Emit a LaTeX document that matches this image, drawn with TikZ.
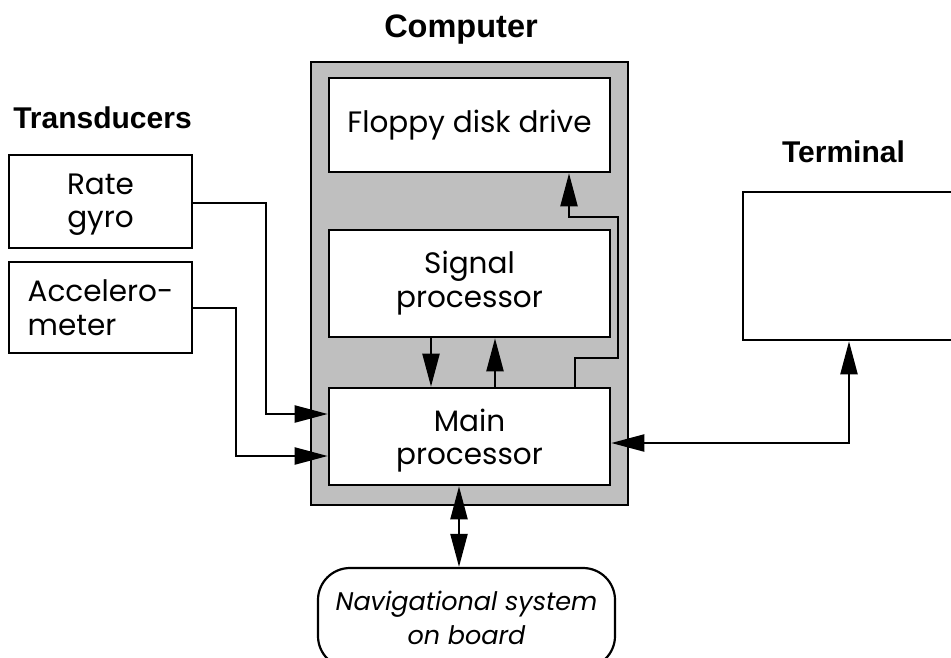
\documentclass[tikz,border=0pt]{standalone}
\usepackage{fontspec}
\setmainfont{Poppins}
\newfontfamily\titlefont{Liberation Sans}
\usetikzlibrary{arrows.meta,calc}
\begin{document}
\begin{tikzpicture}[x=1pt,y=-1pt,
  box/.style={draw,line width=2.6pt,fill=white,inner sep=0pt,font=\fontsize{29.5}{34}\selectfont,align=center},
  lbl/.style={inner sep=0pt,font=\fontsize{29.5}{33}\selectfont,align=center},
  title/.style={font=\titlefont\bfseries\fontsize{30}{34}\selectfont,inner sep=0pt},
  conn/.style={line width=2.2pt},
  arr/.style={conn,-{Triangle[length=33pt,width=17pt]}},
  darr/.style={conn,{Triangle[length=33pt,width=17pt]}-{Triangle[length=33pt,width=17pt]}},
]
\clip (0,0) rectangle (951,657);
\useasboundingbox (0,0) rectangle (951,657);
% computer
\node[draw,line width=2.6pt,fill=black!25,minimum width=317pt,minimum height=443pt,inner sep=0pt] (comp) at (469.5,283.5) {};
\node[title,anchor=base,font=\titlefont\bfseries\fontsize{32.5}{36}\selectfont] (ctitle) at (461,37) {Computer};
\node[box,minimum width=281pt,minimum height=94pt] (floppy) at (469.5,125) {Floppy disk drive};
\node[box,minimum width=281pt,minimum height=107pt] (sig) at (469.5,283.5) {Signal\\processor};
\node[box,minimum width=281pt,minimum height=97pt] (main) at (469.5,436.5) {};
\node[lbl] (mainlbl) at (469.5,441) {Main\\processor};
% transducers
\node[title,anchor=base] (ttitle) at (102.5,128) {Transducers};
\node[box,minimum width=183pt,minimum height=93pt] (gyro) at (100.5,201.5) {};
\node[lbl] (gyrolbl) at (100.5,205) {Rate\\gyro};
\node[box,minimum width=183pt,minimum height=91pt,align=left] (acc) at (100.5,307.5) {Accelero-\\meter};
% terminal
\node[title,anchor=base] (tmtitle) at (843.5,162) {Terminal};
\node[box,minimum width=260pt,minimum height=148pt] (term) at (873,266) {};
% navigation
\node[draw,line width=2.2pt,fill=white,rounded corners=32pt,minimum width=297pt,minimum height=100pt,inner sep=0pt,font=\itshape\fontsize{25.5}{34}\selectfont,align=center] (nav) at (466.5,618) {Navigational system\\on board};
% connectors
\coordinate (g1) at (266,0);
\coordinate (g2) at (0,414);
\draw[arr] (gyro.east |- 0,203) -| (g1 |- g2) -- (main.west |- g2);
\coordinate (a1) at (236,0);
\coordinate (a2) at (0,456);
\draw[arr] (acc.east |- 0,308) -| (a1 |- a2) -- (main.west |- a2);
\coordinate (s1) at (431,0);
\draw[arr] (sig.south -| s1) -- (main.north -| s1);
\coordinate (s2) at (495,0);
\draw[arr] (main.north -| s2) -- (sig.south -| s2);
\coordinate (f1) at (575,358);
\coordinate (f2) at (618,217);
\coordinate (f3) at (569,217);
\draw[arr] (main.north -| f1) -- (f1) -| (f2) -- (f3) -- (floppy.south -| f3);
\coordinate (t1) at (849,443);
\draw[darr] (term.south -| t1) -- (t1) -- (main.east |- t1);
\coordinate (n1) at (459,0);
\draw[darr] (main.south -| n1) -- (nav.north -| n1);
\end{tikzpicture}
\end{document}
